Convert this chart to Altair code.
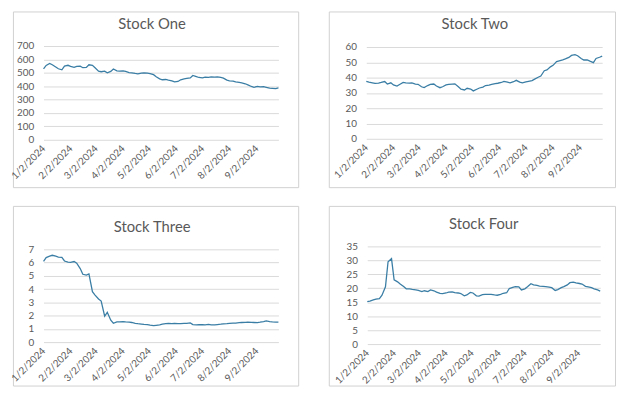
import altair as alt
import pandas as pd

dates = [
    "2024-01-02", "2024-01-05", "2024-01-09", "2024-01-12", "2024-01-16", "2024-01-19", "2024-01-23", "2024-01-26", "2024-01-30",
    "2024-02-02", "2024-02-06", "2024-02-09", "2024-02-13", "2024-02-16", "2024-02-20", "2024-02-23", "2024-02-27",
    "2024-03-01", "2024-03-05", "2024-03-08", "2024-03-12", "2024-03-15", "2024-03-19", "2024-03-22", "2024-03-26", "2024-03-29",
    "2024-04-02", "2024-04-05", "2024-04-09", "2024-04-12", "2024-04-16", "2024-04-19", "2024-04-23", "2024-04-26", "2024-04-30",
    "2024-05-03", "2024-05-07", "2024-05-10", "2024-05-14", "2024-05-17", "2024-05-21", "2024-05-24", "2024-05-28", "2024-05-31",
    "2024-06-04", "2024-06-07", "2024-06-11", "2024-06-14", "2024-06-18", "2024-06-21", "2024-06-25", "2024-06-28",
    "2024-07-02", "2024-07-05", "2024-07-09", "2024-07-12", "2024-07-16", "2024-07-19", "2024-07-23", "2024-07-26", "2024-07-30",
    "2024-08-02", "2024-08-06", "2024-08-09", "2024-08-13", "2024-08-16", "2024-08-20", "2024-08-23", "2024-08-27", "2024-08-30",
    "2024-09-03", "2024-09-06", "2024-09-10", "2024-09-13", "2024-09-17", "2024-09-20", "2024-09-24", "2024-09-27",
]

stock_one = [
    530, 555, 570, 560, 543, 530, 522, 550, 556,
    548, 540, 548, 550, 538, 540, 560, 556,
    538, 512, 508, 512, 500, 510, 528, 515, 512,
    515, 510, 502, 500, 495, 492, 498, 500, 498,
    494, 486, 470, 455, 448, 450, 445, 440, 432,
    435, 448, 455, 458, 462, 480, 472, 465,
    462, 468, 466, 470, 468, 470, 465, 460, 445,
    440, 438, 432, 428, 425, 418, 410, 398, 392,
    398, 395, 396, 392, 385, 384, 382, 388,
]

stock_two = [
    37.5, 37.0, 36.6, 36.2, 36.4, 36.8, 37.4, 35.8, 36.6,
    35.2, 34.5, 35.5, 36.9, 36.5, 36.4, 36.6, 35.8,
    35.6, 34.0, 33.5, 34.8, 35.6, 35.8, 34.5, 33.4, 34.0,
    35.2, 35.5, 35.8, 35.9, 34.0, 32.4, 31.9, 33.0, 32.5,
    31.3, 32.4, 33.2, 33.8, 34.8, 35.0, 35.5, 36.0, 36.3,
    36.8, 37.5, 37.0, 36.5, 37.3, 38.2, 37.0, 36.5,
    37.2, 37.6, 38.0, 39.0, 40.2, 41.0, 44.5, 45.0, 47.0,
    48.0, 50.5, 51.0, 51.6, 52.2, 53.2, 54.5, 55.0, 54.3,
    52.5, 51.5, 51.6, 50.8, 49.8, 52.5, 53.3, 54.0,
]

stock_three = [
    6.10, 6.38, 6.48, 6.55, 6.48, 6.42, 6.40, 6.12, 6.04,
    6.02, 6.08, 5.95, 5.55, 5.12, 5.05, 5.15, 3.80,
    3.55, 3.25, 3.10, 1.95, 2.25, 1.65, 1.42, 1.52, 1.53,
    1.54, 1.52, 1.50, 1.48, 1.42, 1.39, 1.36, 1.34, 1.32,
    1.28, 1.25, 1.27, 1.30, 1.35, 1.40, 1.42, 1.40, 1.41,
    1.40, 1.40, 1.41, 1.42, 1.45, 1.32, 1.30, 1.31,
    1.32, 1.30, 1.33, 1.30, 1.30, 1.32, 1.35, 1.38, 1.40,
    1.42, 1.43, 1.44, 1.47, 1.48, 1.49, 1.50, 1.49, 1.48,
    1.47, 1.50, 1.55, 1.60, 1.55, 1.52, 1.51, 1.50,
]

stock_four = [
    15.2, 15.4, 15.8, 16.1, 16.3, 17.5, 20.5, 29.5, 30.6,
    23.0, 22.3, 21.5, 20.6, 19.8, 19.8, 19.6, 19.4,
    19.2, 18.8, 19.1, 18.8, 19.4, 19.1, 18.6, 18.2, 18.1,
    18.3, 18.6, 18.7, 18.4, 18.3, 18.1, 17.3, 17.6, 18.5,
    18.3, 17.3, 17.2, 17.7, 17.8, 17.8, 17.8, 17.6, 17.5,
    17.8, 18.2, 18.4, 19.9, 20.3, 20.6, 20.5, 19.4,
    19.8, 20.5, 21.6, 21.2, 21.0, 20.8, 20.7, 20.6, 20.4,
    20.2, 19.2, 19.5, 20.2, 20.6, 21.2, 22.0, 22.2, 21.9,
    21.7, 21.5, 20.7, 20.5, 20.2, 19.8, 19.4, 19.0,
]

titles = ["Stock One", "Stock Two", "Stock Three", "Stock Four"]
y_max = [700, 60, 7, 35]
y_step = [100, 10, 1, 5]
tick_months = [1, 2, 3, 4, 5, 6, 7, 8, 9]

LINE = "#3b7ea5"
TEXT = "#595959"
GRID = "#d9d9d9"
FONT = "Lato"


def panel(values, title, ymax, ystep, W, H, pl, pr, yt, yb, tx, ty):
    df = pd.DataFrame({"date": pd.to_datetime(dates), "value": values})
    line = alt.Chart(df).mark_line(color=LINE, strokeWidth=1.3).encode(
        x=alt.X(
            "date:T",
            scale=alt.Scale(
                domain=[alt.DateTime(year=2024, month=1, date=2), alt.DateTime(year=2024, month=9, date=27)],
                range=[pl, pr],
            ),
            axis=alt.Axis(
                values=[alt.DateTime(year=2024, month=m, date=2) for m in tick_months],
                format="%-m/%-d/%Y",
                labelAngle=-45,
                labelAlign="right",
                labelBaseline="middle",
                labelPadding=7,
                labelFlush=False,
                labelOverlap=False,
                ticks=False,
                tickSize=0,
                domain=False,
                grid=False,
                offset=-(H - yb),
                title=None,
            ),
        ),
        y=alt.Y(
            "value:Q",
            scale=alt.Scale(domain=[0, ymax], range=[yb, yt], nice=False, zero=True),
            axis=alt.Axis(
                values=list(range(0, ymax + 1, ystep)),
                ticks=False,
                tickSize=0,
                domain=False,
                grid=True,
                gridColor=GRID,
                gridWidth=1,
                offset=-pl,
                labelPadding=10,
                title=None,
            ),
        ),
    )
    tdf = pd.DataFrame({"t": [title]})
    text = alt.Chart(tdf).mark_text(
        font=FONT, fontSize=15, color=TEXT, align="center", baseline="middle"
    ).encode(x=alt.value(tx), y=alt.value(ty), text="t:N")
    return alt.layer(line, text).properties(width=W, height=H)


p1 = panel(stock_one, titles[0], y_max[0], y_step[0], 289, 178, 31, 269, 35, 130, 141, 13)
p2 = panel(stock_two, titles[1], y_max[1], y_step[1], 290, 178, 38, 277, 36, 129, 148, 13)
p3 = panel(stock_three, titles[2], y_max[2], y_step[2], 289, 182, 31, 269, 44, 138, 141, 21)
p4 = panel(stock_four, titles[3], y_max[3], y_step[3], 290, 182, 39, 275, 41, 140, 157, 18)

chart = alt.vconcat(
    alt.hconcat(p1, p2, spacing=29),
    alt.hconcat(p3, p4, spacing=29),
    spacing=17,
).properties(
    padding=0, background="white"
).configure_view(
    stroke="#d0d0d0", strokeWidth=1
).configure_axis(
    labelFont=FONT, labelFontSize=10, labelColor=TEXT
)

chart.save("out.html", embed_options={"renderer": "svg", "actions": False})
